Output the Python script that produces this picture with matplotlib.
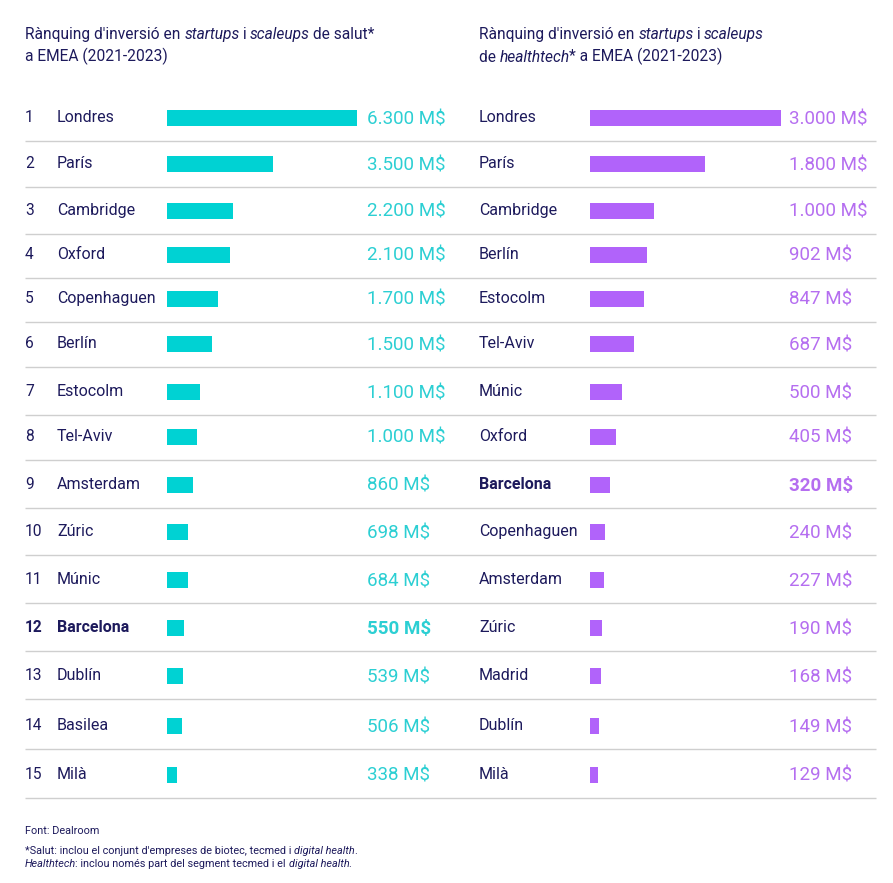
import matplotlib
matplotlib.use('Agg')
import matplotlib.pyplot as plt

# data
cities_salut = ['Londres', 'París', 'Cambridge', 'Oxford', 'Copenhaguen', 'Berlín', 'Estocolm',
                'Tel-Aviv', 'Amsterdam', 'Zúric', 'Múnic', 'Barcelona', 'Dublín', 'Basilea', 'Milà']
values_salut = [6300, 3500, 2200, 2100, 1700, 1500, 1100, 1000, 860, 698, 684, 550, 539, 506, 338]

cities_ht = ['Londres', 'París', 'Cambridge', 'Berlín', 'Estocolm', 'Tel-Aviv', 'Múnic', 'Oxford',
             'Barcelona', 'Copenhaguen', 'Amsterdam', 'Zúric', 'Madrid', 'Dublín', 'Milà']
values_ht = [3000, 1800, 1000, 902, 847, 687, 500, 405, 320, 240, 227, 190, 168, 149, 129]

W, H = 893, 883
NAVY = '#1d1a5c'
CYAN = '#00d2d3'
CYAN_TXT = '#2ccfd3'
PURPLE = '#b163fa'
PURPLE_TXT = '#b56ef0'
GRID = '#cfcfcf'
FONT = 'Roboto'

plt.rcParams['font.family'] = [FONT, 'DejaVu Sans']

fig = plt.figure(figsize=(W / 100, H / 100), dpi=100)
fig.patch.set_facecolor('white')
ax = fig.add_axes([0, 0, 1, 1])
ax.set_xlim(0, W)
ax.set_ylim(H, 0)
ax.axis('off')

# row layout (pixel positions of the separator lines under each row)
seps = [141, 187, 234, 278, 322, 367, 415, 460, 508, 555, 603, 651, 699, 749, 798]
rows = [s - 23.5 for s in seps]


def fmt(v):
    return f'{v:,}'.replace(',', '.') + ' M$'


def rich(x, y, parts, size):
    # parts: list of (text, style); drawn one after the other on the same line
    prev = None
    prev_style = None
    for s, style in parts:
        if prev is None:
            prev = ax.text(x, y, s, fontsize=size, style=style, color=NAVY,
                           ha='left', va='bottom')
        else:
            dx = -0.06 * size if prev_style == 'italic' else 0
            prev = ax.annotate(s, xy=(1, 0), xycoords=prev, xytext=(dx, 0),
                               textcoords='offset points', fontsize=size, style=style,
                               color=NAVY, ha='left', va='bottom')
        prev_style = style


# titles
rich(25, 42, [("Rànquing d'inversió en ", 'normal'), ('startups', 'italic'), (' i ', 'normal'),
              ('scaleups', 'italic'), (' de salut*', 'normal')], 11.2)
rich(25, 65, [('a EMEA (2021-2023)', 'normal')], 11.2)
rich(479, 42, [("Rànquing d'inversió en ", 'normal'), ('startups', 'italic'), (' i ', 'normal'),
               ('scaleups', 'italic')], 11.2)
rich(479, 65, [('de ', 'normal'), ('healthtech', 'italic'), ('* a EMEA (2021-2023)', 'normal')], 11.2)

# separators
for s in seps:
    ax.plot([25, 876], [s, s], color=GRID, lw=1, solid_capstyle='butt')

# bar axes
axl = fig.add_axes([167 / W, 0, 190 / W, 1])
axl.set_xlim(0, max(values_salut))
axl.set_ylim(H, 0)
axl.axis('off')
axl.barh(rows, values_salut, height=16, color=CYAN)

axr = fig.add_axes([590 / W, 0, 191 / W, 1])
axr.set_xlim(0, max(values_ht))
axr.set_ylim(H, 0)
axr.axis('off')
axr.barh(rows, values_ht, height=16, color=PURPLE)

for i, y in enumerate(rows):
    b = 'bold' if cities_salut[i] == 'Barcelona' else 'normal'
    ax.text(25, y, str(i + 1), fontsize=11.2, color=NAVY, ha='left', va='center', fontweight=b)
    ax.text(57, y, cities_salut[i], fontsize=11.5, color=NAVY, ha='left', va='center', fontweight=b)
    ax.text(367, y + 1.5, fmt(values_salut[i]), fontsize=13.5, color=CYAN_TXT, ha='left',
            va='center', fontweight=b)

    b2 = 'bold' if cities_ht[i] == 'Barcelona' else 'normal'
    ax.text(479, y, cities_ht[i], fontsize=11.5, color=NAVY, ha='left', va='center', fontweight=b2)
    ax.text(789, y + 1.5, fmt(values_ht[i]), fontsize=13.5, color=PURPLE_TXT, ha='left',
            va='center', fontweight=b2)

# footer
ax.text(25, 831, 'Font: Dealroom', fontsize=7.8, color=NAVY, ha='left', va='center')
rich(25, 856, [('*Salut: inclou el conjunt d\'empreses de biotec, tecmed i ', 'normal'),
               ('digital health', 'italic'), ('.', 'normal')], 7.8)
rich(25, 869, [('Healthtech', 'italic'), (': inclou només part del segment tecmed i el ', 'normal'),
               ('digital health', 'italic'), ('.', 'normal')], 7.8)

fig.savefig('out.png', dpi=100, facecolor='white')
